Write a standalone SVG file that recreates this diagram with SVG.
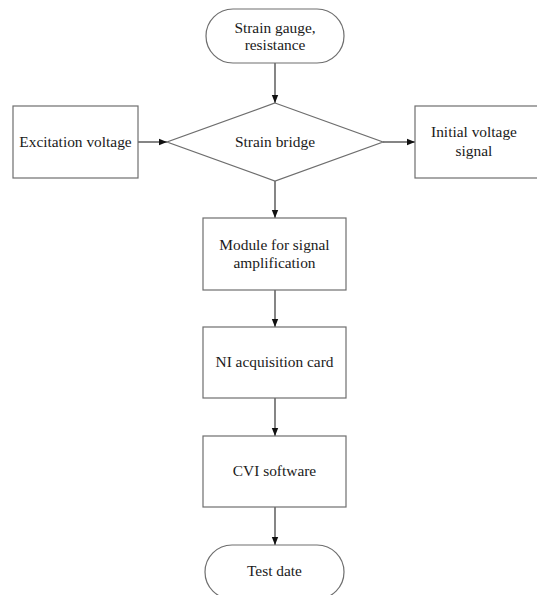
<svg xmlns="http://www.w3.org/2000/svg" width="537" height="595" viewBox="0 0 537 595">
<style>
.shape{fill:#fff;stroke:#6e6e6e;stroke-width:1.2}
.conn{stroke:#222;stroke-width:1.1;fill:none}
text{font-family:"Liberation Serif","Times New Roman",serif;font-size:15.4px;fill:#1a1a1a;text-anchor:middle}
</style>
<defs>
<marker id="arr" viewBox="0 0 10 10" refX="10" refY="5" markerWidth="8" markerHeight="8" markerUnits="userSpaceOnUse" orient="auto">
<path d="M0,1 L10,5 L0,9 Z" fill="#111"/>
</marker>
</defs>
<rect width="537" height="595" fill="#fff"/>
<g id="connectors">
<line class="conn" x1="275" y1="63" x2="275" y2="103" marker-end="url(#arr)"/>
<line class="conn" x1="138" y1="142" x2="167" y2="142" marker-end="url(#arr)"/>
<line class="conn" x1="383" y1="142" x2="415" y2="142" marker-end="url(#arr)"/>
<line class="conn" x1="275" y1="181" x2="275" y2="218" marker-end="url(#arr)"/>
<line class="conn" x1="275" y1="290" x2="275" y2="327" marker-end="url(#arr)"/>
<line class="conn" x1="275" y1="398" x2="275" y2="436" marker-end="url(#arr)"/>
<line class="conn" x1="275" y1="507" x2="275" y2="545" marker-end="url(#arr)"/>
</g>
<g id="strain-gauge">
<rect class="shape" x="206" y="9" width="138" height="54" rx="27" ry="27"/>
<text x="275" y="33">Strain gauge,</text>
<text x="275" y="50">resistance</text>
</g>
<g id="excitation">
<rect class="shape" x="13" y="106" width="125" height="72"/>
<text x="75.5" y="147">Excitation voltage</text>
</g>
<g id="strain-bridge">
<polygon class="shape" points="275,103 383,142 275,181 167,142"/>
<text x="275" y="147">Strain bridge</text>
</g>
<g id="initial-signal">
<rect class="shape" x="415" y="106" width="125" height="72"/>
<text x="474" y="137">Initial voltage</text>
<text x="474" y="156">signal</text>
</g>
<g id="amplification">
<rect class="shape" x="203" y="218" width="143" height="72"/>
<text x="274.5" y="250">Module for signal</text>
<text x="274.5" y="268">amplification</text>
</g>
<g id="ni-card">
<rect class="shape" x="203" y="327" width="143" height="71"/>
<text x="274.5" y="367">NI acquisition card</text>
</g>
<g id="cvi">
<rect class="shape" x="203" y="436" width="143" height="71"/>
<text x="274.5" y="476">CVI software</text>
</g>
<g id="test-date">
<rect class="shape" x="205" y="545" width="139" height="54" rx="27" ry="27"/>
<text x="274.5" y="576">Test date</text>
</g>
</svg>
